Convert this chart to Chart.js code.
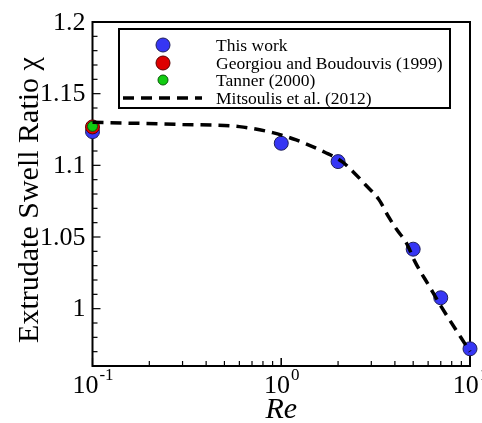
<!DOCTYPE html>
<html>
<head>
<meta charset="utf-8">
<script src="https://cdn.jsdelivr.net/npm/chart.js@4"></script>
<style>
  html, body { margin: 0; padding: 0; background: #fff; }
  #wrap { width: 482px; height: 423px; }
</style>
</head>
<body>
<div id="wrap"><canvas id="swellChart" width="482" height="423"></canvas></div>
<script>
// --- data ---
const reThisWork = [0.1, 1, 2, 5, 7, 10];
const chiThisWork = [1.1235, 1.1154, 1.1026, 1.0415, 1.0076, 0.972];
const reGeorgiou = [0.1];
const chiGeorgiou = [1.1268];
const reTanner = [0.1];
const chiTanner = [1.1272];
const reMitsoulis = [0.1, 0.3, 0.6, 0.9, 1.2, 1.7, 2.1, 2.4, 2.8, 3.3, 3.7, 4.1, 4.6, 5.1, 6.1, 7, 10];
const chiMitsoulis = [1.130, 1.1285, 1.127, 1.1228, 1.1177, 1.1091, 1.1026, 1.0956, 1.0863, 1.0759, 1.0642, 1.055, 1.0459, 1.033, 1.0154, 1.002, 0.970];

const yMajorTicks = [1, 1.05, 1.1, 1.15, 1.2];
const yTickLabels = ['1', '1.05', '1.1', '1.15', '1.2'];
const xMajorTicks = [0.1, 1, 10];
const xTickExponents = ['-1', '0', '1'];
const legendLabels = ['This work', 'Georgiou and Boudouvis (1999)', 'Tanner (2000)', 'Mitsoulis et al. (2012)'];

const serif = '"Liberation Serif", "Times New Roman", serif';
const toPoints = (xs, ys) => xs.map((x, i) => ({ x: x, y: ys[i] }));

// frame, ticks, labels and legend drawn by hand to match the Tecplot look
const framePlugin = {
    id: 'frame',
    beforeDatasetsDraw(chart) {
        const { ctx, chartArea: a, scales } = chart;
        const xs = scales.x, ys = scales.y;
        ctx.save();
        ctx.strokeStyle = '#000';

        // y ticks: minor every 0.01, major every 0.05
        ctx.lineWidth = 1.2;
        for (let k = 96; k <= 120; k++) {
            const py = ys.getPixelForValue(k / 100);
            const len = (k % 5 === 0) ? 8 : 5;
            ctx.beginPath();
            ctx.moveTo(a.left, py);
            ctx.lineTo(a.left + len, py);
            ctx.stroke();
        }
        // x ticks: log minor ticks
        for (let d = 0.1; d < 10; d *= 10) {
            for (let m = 1; m <= 10; m++) {
                const v = d * m;
                const px = xs.getPixelForValue(v);
                const len = (m === 1 || m === 10) ? 8 : 5;
                ctx.beginPath();
                ctx.moveTo(px, a.bottom);
                ctx.lineTo(px, a.bottom - len);
                ctx.stroke();
            }
        }

        // frame
        ctx.lineWidth = 2;
        ctx.strokeRect(a.left, a.top, a.right - a.left, a.bottom - a.top);

        // y tick labels
        ctx.fillStyle = '#000';
        ctx.font = '26px ' + serif;
        ctx.textAlign = 'right';
        ctx.textBaseline = 'middle';
        yMajorTicks.forEach((v, i) => {
            ctx.fillText(yTickLabels[i], a.left - 7, ys.getPixelForValue(v) + 1);
        });

        // x tick labels with superscript exponent
        ctx.textBaseline = 'alphabetic';
        ctx.textAlign = 'left';
        xMajorTicks.forEach((v, i) => {
            const px = xs.getPixelForValue(v);
            ctx.font = '26px ' + serif;
            const wBase = ctx.measureText('10').width;
            ctx.font = '17px ' + serif;
            const wExp = ctx.measureText(xTickExponents[i]).width;
            const x0 = px - (wBase + wExp) / 2;
            ctx.font = '26px ' + serif;
            ctx.fillText('10', x0, 393);
            ctx.font = '17px ' + serif;
            ctx.fillText(xTickExponents[i], x0 + wBase + 1, 380);
        });

        // axis titles
        ctx.textAlign = 'center';
        ctx.font = 'italic 30px ' + serif;
        ctx.fillText('Re', (a.left + a.right) / 2, 418);

        ctx.translate(38, 200);
        ctx.rotate(-Math.PI / 2);
        ctx.font = '30px ' + serif;
        ctx.fillText('Extrudate Swell Ratio \u03C7', 0, 0);
        ctx.restore();
    },
    afterDraw(chart) {
        const { ctx } = chart;
        const ds = chart.data.datasets;
        ctx.save();
        // legend box
        ctx.fillStyle = '#fff';
        ctx.fillRect(119, 29, 331, 79);
        ctx.strokeStyle = '#000';
        ctx.lineWidth = 2;
        ctx.strokeRect(119, 29, 331, 79);

        const rowsY = [45, 63, 80, 98];
        ctx.font = '17.5px ' + serif;
        ctx.textAlign = 'left';
        ctx.textBaseline = 'middle';
        rowsY.forEach((y, i) => {
            const d = ds[i];
            if (d.showLine) {
                ctx.setLineDash(d.borderDash);
                ctx.strokeStyle = d.borderColor;
                ctx.lineWidth = d.borderWidth;
                ctx.beginPath();
                ctx.moveTo(123, y);
                ctx.lineTo(202, y);
                ctx.stroke();
                ctx.setLineDash([]);
            } else {
                ctx.beginPath();
                ctx.arc(163, y, d.pointRadius, 0, Math.PI * 2);
                ctx.fillStyle = d.backgroundColor;
                ctx.fill();
                ctx.lineWidth = d.borderWidth;
                ctx.strokeStyle = d.borderColor;
                ctx.stroke();
            }
            ctx.fillStyle = '#000';
            ctx.fillText(legendLabels[i], 216, y + 1);
        });
        ctx.restore();
    }
};

new Chart(document.getElementById('swellChart'), {
    type: 'scatter',
    data: {
        datasets: [
            {
                label: legendLabels[0],
                data: toPoints(reThisWork, chiThisWork),
                backgroundColor: '#3636f4',
                borderColor: '#20205a',
                borderWidth: 1,
                pointRadius: 7,
                order: 3
            },
            {
                label: legendLabels[1],
                data: toPoints(reGeorgiou, chiGeorgiou),
                backgroundColor: '#dd0000',
                borderColor: '#5a0000',
                borderWidth: 1,
                pointRadius: 7,
                order: 2
            },
            {
                label: legendLabels[2],
                data: toPoints(reTanner, chiTanner),
                backgroundColor: '#11cc11',
                borderColor: '#085a08',
                borderWidth: 1,
                pointRadius: 5,
                order: 1
            },
            {
                label: legendLabels[3],
                data: toPoints(reMitsoulis, chiMitsoulis),
                showLine: true,
                borderColor: '#000',
                borderWidth: 3.5,
                borderDash: [11, 7],
                pointRadius: 0,
                cubicInterpolationMode: 'monotone',
                order: 0
            }
        ]
    },
    options: {
        responsive: false,
        animation: false,
        clip: false,
        layout: { padding: { top: 22, right: 12, left: 0, bottom: 0 } },
        scales: {
            x: {
                type: 'logarithmic',
                min: 0.1,
                max: 10,
                grid: { display: false },
                border: { display: false },
                ticks: { display: false },
                afterFit: (s) => { s.height = 57; }
            },
            y: {
                min: 0.96,
                max: 1.2,
                grid: { display: false },
                border: { display: false },
                ticks: { display: false },
                afterFit: (s) => { s.width = 92.5; }
            }
        },
        plugins: {
            legend: { display: false },
            tooltip: { enabled: false }
        }
    },
    plugins: [framePlugin]
});
</script>
</body>
</html>
